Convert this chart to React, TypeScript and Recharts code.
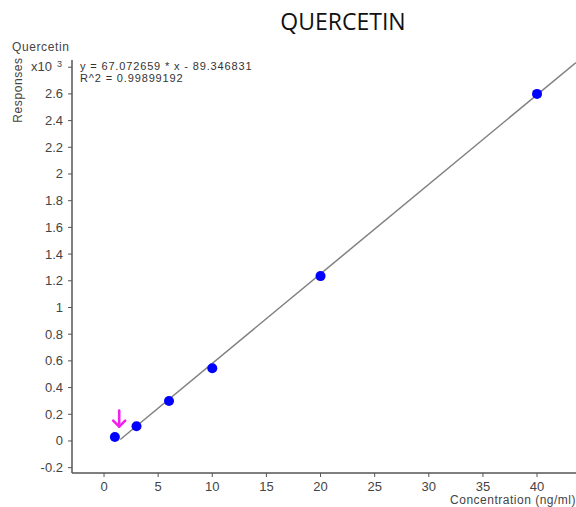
import { ScatterChart, Scatter, XAxis, YAxis } from 'recharts';

// calibration standards, response in x10^3
const concentrations = [1, 3, 6, 10, 20, 40];
const responses = [0.03, 0.11, 0.3, 0.545, 1.235, 2.6];

// fit line end points
const fitX = [1.5, 43.6];
const fitY = [0.011, 2.835];

// marker arrow tip over the lowest standard
const arrowX = [1.4];
const arrowY = [0.1];

const xTicks = [0, 5, 10, 15, 20, 25, 30, 35, 40];
const yTicks = [-0.2, 0, 0.2, 0.4, 0.6, 0.8, 1, 1.2, 1.4, 1.6, 1.8, 2, 2.2, 2.4, 2.6, 2.8];

const points = concentrations.map((x, i) => ({ x, y: responses[i] }));
const fitLine = fitX.map((x, i) => ({ x, y: fitY[i] }));
const arrow = arrowX.map((x, i) => ({ x, y: arrowY[i] }));

const FONT = '"Liberation Sans", Arial, sans-serif';
const TICK_COLOR = '#444';
const AXIS_COLOR = '#555';

function YTick({ x = 0, y = 0, payload }: any) {
  const v = payload?.value;
  if (Math.abs(v - 2.8) < 1e-6) {
    return (
      <g>
        <text x={x - 14} y={y + 4} textAnchor="end" fontSize={13} fill={TICK_COLOR} fontFamily={FONT}>
          x10
        </text>
        <text x={x - 4} y={y} textAnchor="end" fontSize={9} fill={TICK_COLOR} fontFamily={FONT}>
          3
        </text>
      </g>
    );
  }
  return (
    <text x={x - 3} y={y + 4.5} textAnchor="end" fontSize={13} fill={TICK_COLOR} fontFamily={FONT}>
      {String(Math.round(v * 10) / 10)}
    </text>
  );
}

function XTick({ x = 0, y = 0, payload }: any) {
  return (
    <text x={x} y={y + 12} textAnchor="middle" fontSize={13} fill={TICK_COLOR} fontFamily={FONT}>
      {payload?.value}
    </text>
  );
}

function Dot({ cx = 0, cy = 0 }: any) {
  return <circle cx={cx} cy={cy} r={5} fill="#0000ff" />;
}

function Arrow({ cx = 0, cy = 0 }: any) {
  return (
    <g stroke="#f020f0" strokeWidth={2.6} fill="none" strokeLinecap="round" strokeLinejoin="round">
      <line x1={cx} y1={cy - 17} x2={cx} y2={cy - 1} />
      <polyline points={`${cx - 6},${cy - 7} ${cx},${cy - 1} ${cx + 6},${cy - 7}`} />
    </g>
  );
}

export default function App() {
  return (
    <div style={{ position: 'absolute', left: 0, top: 0, width: 576, height: 507, background: '#fff' }}>
      <ScatterChart width={576} height={507} margin={{ top: 60, right: 0, bottom: 0, left: 12 }}>
        <XAxis
          type="number"
          dataKey="x"
          domain={[-2.96, 43.6]}
          ticks={xTicks}
          allowDataOverflow
          height={34}
          tick={<XTick />}
          tickSize={4}
          axisLine={{ stroke: AXIS_COLOR, strokeWidth: 1.5 }}
          tickLine={{ stroke: AXIS_COLOR }}
        />
        <YAxis
          type="number"
          dataKey="y"
          domain={[-0.24, 2.854]}
          ticks={yTicks}
          allowDataOverflow
          width={60}
          tick={<YTick />}
          tickSize={4}
          axisLine={{ stroke: AXIS_COLOR, strokeWidth: 1.5 }}
          tickLine={{ stroke: AXIS_COLOR }}
        />
        <Scatter
          data={fitLine}
          line={{ stroke: '#808080', strokeWidth: 1.5 }}
          shape={() => null}
          isAnimationActive={false}
        />
        <Scatter data={points} shape={<Dot />} isAnimationActive={false} />
        <Scatter data={arrow} shape={<Arrow />} isAnimationActive={false} />
      </ScatterChart>
      <svg
        width={576}
        height={507}
        style={{ position: 'absolute', left: 0, top: 0, pointerEvents: 'none' }}
      >
        <text x={343} y={30} textAnchor="middle" fontSize={23} fill="#111" fontFamily='"Open Sans", "Noto Sans", sans-serif'>
          QUERCETIN
        </text>
        <text x={12} y={51} fontSize={12} letterSpacing={0.6} fill={TICK_COLOR} fontFamily={FONT}>
          Quercetin
        </text>
        <text
          x={22}
          y={90}
          fontSize={12}
          letterSpacing={0.6}
          fill={TICK_COLOR}
          fontFamily={FONT}
          textAnchor="middle"
          transform="rotate(-90 22 90)"
        >
          Responses
        </text>
        <text x={80} y={70} fontSize={11} letterSpacing={0.85} fill="#333" fontFamily={FONT}>
          y = 67.072659 * x  - 89.346831
        </text>
        <text x={80} y={81.5} fontSize={11} letterSpacing={0.85} fill="#333" fontFamily={FONT}>
          R^2 = 0.99899192
        </text>
        <text x={576} y={504} textAnchor="end" fontSize={12} letterSpacing={0.5} fill={TICK_COLOR} fontFamily={FONT}>
          Concentration (ng/ml)
        </text>
      </svg>
    </div>
  );
}
